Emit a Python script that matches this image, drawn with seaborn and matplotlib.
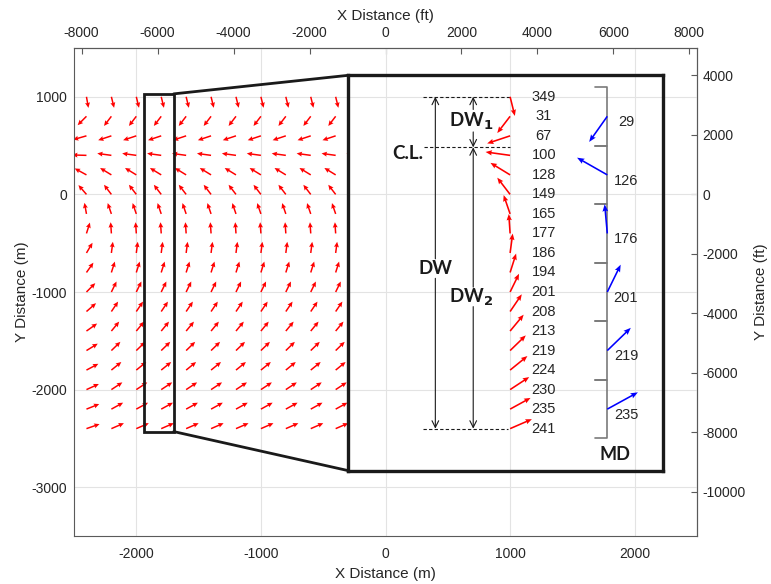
import numpy as np
import pandas as pd
import matplotlib
matplotlib.use("Agg")
import matplotlib.pyplot as plt
import seaborn as sns

# ---------------- data ----------------
row_y = [1000, 800, 600, 400, 200, 0, -200, -400, -600, -800,
         -1000, -1200, -1400, -1600, -1800, -2000, -2200, -2400]
row_angles = [349, 31, 67, 100, 128, 149, 165, 177, 186, 194,
              201, 208, 213, 219, 224, 230, 235, 241]
left_col_angles = [352, 38, 70, 92, 125, 146, 172, 194, 205, 209,
                   218, 222, 228, 232, 236, 240, 243, 246]
field_x = [-2400, -2200, -2000, -1800, -1600, -1400, -1200,
           -1000, -800, -600, -400, -200]
md_y = [800, 200, -400, -1000, -1600, -2200]
md_angles = [29, 126, 176, 201, 219, 235]
md_labels = ["29", "126", "176", "201", "219", "235"]
md_bounds = [1100, 500, -100, -700, -1300, -1900, -2500]
x_ticks_m = [-2000, -1000, 0, 1000, 2000]
y_ticks_m = [-3000, -2000, -1000, 0, 1000]
x_ticks_ft = [-8000, -6000, -4000, -2000, 0, 2000, 4000, 6000, 8000]
y_ticks_ft = [-10000, -8000, -6000, -4000, -2000, 0, 2000, 4000]
M2FT = 3.28084

sns.set_theme(style="white")
plt.rcParams["font.family"] = ["Liberation Sans", "DejaVu Sans"]
plt.rcParams["axes.unicode_minus"] = False
TXT = "#262626"

fig = plt.figure(figsize=(7.71, 5.84), dpi=100)
ax = fig.add_axes([74 / 771, 1 - 536 / 584, (697 - 74) / 771, (536 - 48) / 584])
ax.set_xlim(-2500, 2500)
ax.set_ylim(-3500, 1500)
ax.set_xticks(x_ticks_m)
ax.set_yticks(y_ticks_m)
ax.grid(True, color="#e3e3e3", lw=0.8)
ax.set_axisbelow(True)
for s in ax.spines.values():
    s.set_color("#5a5a5a")
    s.set_linewidth(0.8)
ax.tick_params(direction="in", length=4, width=0.8, color="#5a5a5a",
               labelsize=10, labelcolor=TXT)
ax.tick_params(axis="x", pad=8)
ax.tick_params(axis="y", pad=5)
ax.set_xlabel("X Distance (m)", fontsize=11, color=TXT, labelpad=4)
ax.set_ylabel("Y Distance (m)", fontsize=11, color=TXT, labelpad=2)

# secondary axes in feet
secx = ax.secondary_xaxis("top", functions=(lambda m: m * M2FT, lambda f: f / M2FT))
secx.set_xticks(x_ticks_ft)
secx.set_xlabel("X Distance (ft)", fontsize=11, color=TXT, labelpad=4)
secx.tick_params(direction="in", length=4, width=0.8, color="#5a5a5a",
                 labelsize=10, labelcolor=TXT, pad=6)
secy = ax.secondary_yaxis("right", functions=(lambda m: m * M2FT, lambda f: f / M2FT))
secy.set_yticks(y_ticks_ft)
secy.set_ylabel("Y Distance (ft)", fontsize=11, color=TXT, labelpad=6)
secy.tick_params(direction="in", length=4, width=0.8, color="#5a5a5a",
                 labelsize=10, labelcolor=TXT, pad=4)
for sa in (secx, secy):
    for s in sa.spines.values():
        s.set_color("#5a5a5a")
        s.set_linewidth(0.8)

# ---------------- vector field ----------------
recs = []
for i, x in enumerate(field_x):
    angs = left_col_angles if i == 0 else row_angles
    for y, a in zip(row_y, angs):
        recs.append((x, y, a))
df = pd.DataFrame(recs, columns=["x", "y", "ang"])
L = 115.0
th = np.deg2rad(df["ang"].to_numpy())
ax.quiver(df["x"], df["y"], -L * np.sin(th), -L * np.cos(th),
          angles="xy", scale_units="xy", scale=1, units="dots",
          width=1.5, headwidth=3.3, headlength=3.6, headaxislength=3.2,
          color="#ff0000", zorder=2)

# zoom indicator
ax.add_patch(plt.Rectangle((-1940, -2430), 240, 3460, fill=False, ec="k", lw=2.0, zorder=4))
ax.plot([-1700, -300], [1030, 1220], color="k", lw=2.0, zorder=4)
ax.plot([-1700, -300], [-2430, -2830], color="k", lw=2.0, zorder=4)

# ---------------- inset ----------------
bx0, bx1, by0, by1 = -300, 2225, -2830, 1220
ins = ax.inset_axes([bx0, by0, bx1 - bx0, by1 - by0], transform=ax.transData, zorder=5)
ins.set_xlim(bx0, bx1)
ins.set_ylim(by0, by1)
ins.set_facecolor("white")
ins.set_xticks([0, 1000, 2000])
ins.set_yticks([-2000, -1000, 0, 1000])
ins.tick_params(length=0, labelbottom=False, labelleft=False)
ins.grid(True, color="#e3e3e3", lw=0.8)
ins.set_axisbelow(True)
for s in ins.spines.values():
    s.set_color("k")
    s.set_linewidth(2.4)

th_r = np.deg2rad(np.array(row_angles))
LI = 200.0
ins.quiver(np.full(len(row_y), 1000.0), row_y, -LI * np.sin(th_r), -LI * np.cos(th_r),
           angles="xy", scale_units="xy", scale=1, units="dots",
           width=1.6, headwidth=3.3, headlength=4.0, headaxislength=3.6,
           color="#ff0000", zorder=3)
for y, a in zip(row_y, row_angles):
    ins.text(1270, y, str(a), ha="center", va="center", fontsize=10.5, color=TXT)

# MD brackets
bracket_x = 1780
for j in range(len(md_bounds) - 1):
    t, b = md_bounds[j], md_bounds[j + 1]
    ins.plot([bracket_x - 100, bracket_x, bracket_x, bracket_x - 100], [t, t, b, b],
             color="#7a7a7a", lw=1.2, zorder=2)
th_m = np.deg2rad(np.array(md_angles))
LM = 300.0
ins.quiver(np.full(len(md_y), float(bracket_x)), md_y, -LM * np.sin(th_m), -LM * np.cos(th_m),
           angles="xy", scale_units="xy", scale=1, units="dots",
           width=1.6, headwidth=3.6, headlength=4.6, headaxislength=4.0,
           color="#0000ff", zorder=3)
for y, lab in zip(md_y, md_labels):
    ins.text(1930, y - 60, lab, ha="center", va="center", fontsize=10.5, color=TXT)
ins.text(1840, -2670, "MD", ha="center", va="center", fontsize=13,
         fontweight="bold", color="k", family=["Lato", "DejaVu Sans"])

# dashed lines
ins.plot([300, 1000], [1000, 1000], color="k", lw=0.8, ls=(0, (3, 2)), zorder=2)
ins.plot([310, 1000], [482, 482], color="k", lw=0.8, ls=(0, (3, 2)), zorder=2)
ins.plot([300, 980], [-2400, -2400], color="k", lw=0.8, ls=(0, (3, 2)), zorder=2)

ap = dict(arrowstyle="->", lw=0.8, color="k", shrinkA=0, shrinkB=0, mutation_scale=12)
# DW
ins.annotate("", xy=(400, 1000), xytext=(400, -660), arrowprops=ap)
ins.annotate("", xy=(400, -2400), xytext=(400, -860), arrowprops=ap)
# DW1
ins.annotate("", xy=(704, 1000), xytext=(704, 870), arrowprops=ap)
ins.annotate("", xy=(704, 482), xytext=(704, 640), arrowprops=ap)
# DW2
ins.annotate("", xy=(704, 482), xytext=(704, -950), arrowprops=ap)
ins.annotate("", xy=(704, -2400), xytext=(704, -1150), arrowprops=ap)

bold = dict(fontweight="bold", color="k", family=["Lato", "DejaVu Sans"], fontsize=13.5,
            va="center", ha="center")
ins.text(690, 745, r"DW$_\mathbf{1}$", **bold)
ins.text(180, 420, "C.L.", **bold)
ins.text(400, -755, "DW", **bold)
ins.text(690, -1050, r"DW$_\mathbf{2}$", **bold)

fig.savefig("out.png", dpi=100)
